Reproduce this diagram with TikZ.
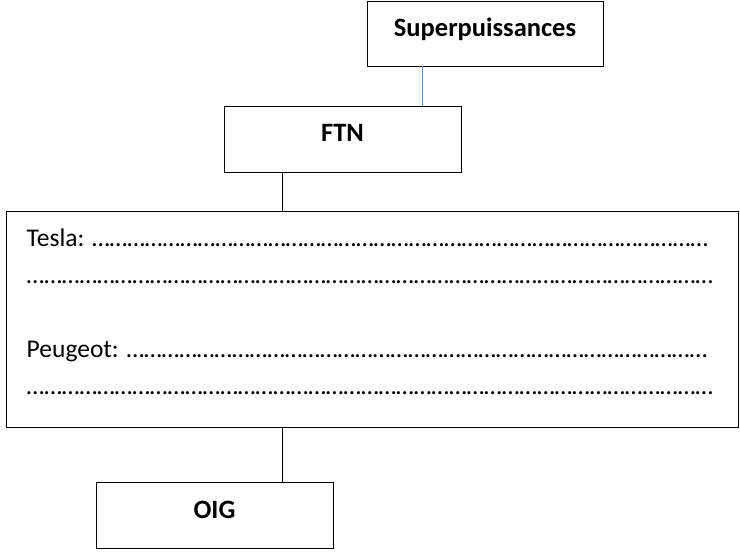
\documentclass[tikz,border=0pt]{standalone}
\usepackage{fontspec}
\setmainfont{Carlito}
\usepackage{tikz}
\usetikzlibrary{positioning}
\definecolor{linkblue}{RGB}{91,138,206}

\newcommand{\dotsrun}[1]{\foreach \i in {1,...,#1}{…}}

\begin{document}
\begin{tikzpicture}[x=1pt, y=-1pt,
	box/.style = {draw, line width=0.9pt, rectangle, inner sep=0pt, font=\fontsize{26.5}{30}\selectfont\bfseries, text height=18pt, text depth=12pt},
	line/.style = {anchor=base west, inner sep=0pt, font=\fontsize{25.5}{30}\selectfont},
	wire/.style = {line width=0.9pt}]
	\useasboundingbox (0,0) rectangle (740,556);

	\node[box, minimum width=236pt, minimum height=65pt] (sup) at (485,33.5) {Superpuissances};
	\node[box, minimum width=237pt, minimum height=66pt] (ftn) at (342.5,139) {FTN};
	\node[box, minimum width=732pt, minimum height=216pt] (info) at (372,319) {};
	\node[box, minimum width=237pt, minimum height=66pt] (oig) at (214.5,515) {OIG};

	\node[line] (tesla) at ([xshift=21pt, yshift=-36pt]info.north west) {Tesla: \dotsrun{35}\kern6pt};
	\node[line] (teslab) at ([yshift=-37pt]tesla.base west) {\dotsrun{39}};
	\node[line] (peugeot) at ([yshift=-74pt]teslab.base west) {Peugeot: \dotsrun{33}};
	\node[line] (peugeotb) at ([yshift=-37pt]peugeot.base west) {\dotsrun{39}};

	\draw[wire, linkblue] (sup.south -| 422,0) -- (ftn.north -| 422,0);
	\draw[wire] (ftn.south -| 282,0) -- (info.north -| 282,0);
	\draw[wire] (info.south -| 282,0) -- (oig.north -| 282,0);
\end{tikzpicture}
\end{document}
